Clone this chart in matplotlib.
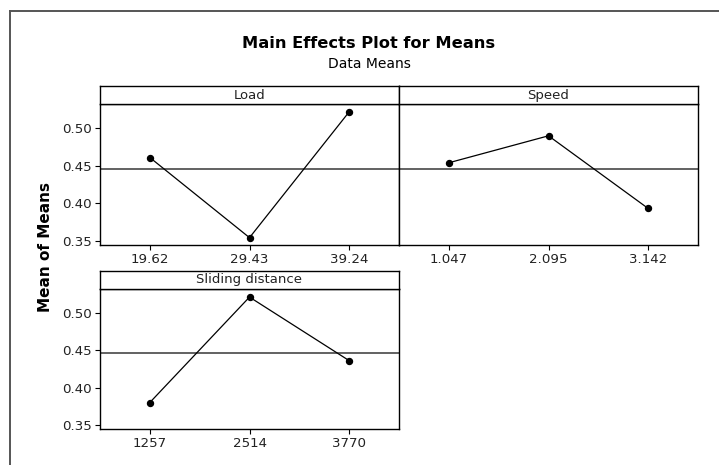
import numpy as np
import matplotlib
matplotlib.use("Agg")
import matplotlib.pyplot as plt
from matplotlib.lines import Line2D

plt.rcParams['font.family'] = ['DejaVu Sans']

# Level means for each factor
factors = ["Load", "Speed", "Sliding distance"]
load_levels = ["19.62", "29.43", "39.24"]
load_means = [0.461, 0.354, 0.522]
speed_levels = ["1.047", "2.095", "3.142"]
speed_means = [0.454, 0.490, 0.393]
sliding_levels = ["1257", "2514", "3770"]
sliding_means = [0.380, 0.521, 0.436]

y_ticks = [0.35, 0.40, 0.45, 0.50]
y_limits = (0.3442, 0.5318)

grand_mean = np.mean(load_means + speed_means + sliding_means)

W, H = 719, 465
fig = plt.figure(figsize=(W / 100, H / 100), dpi=100)


def px_rect(left, top, right, bottom):
    return [left / W, 1 - bottom / H, (right - left) / W, (bottom - top) / H]


# Outer frame (left and top edges)
fig.add_artist(Line2D([10 / W, 10 / W], [0, 1 - 11 / H], transform=fig.transFigure,
                      color="#555555", lw=1.4))
fig.add_artist(Line2D([10 / W, 1.01], [1 - 11 / H, 1 - 11 / H], transform=fig.transFigure,
                      color="#555555", lw=1.4))

fig.text(369 / W, 1 - 44 / H, "Main Effects Plot for Means", ha="center", va="center",
         fontsize=11.7, fontweight="bold")
fig.text(369 / W, 1 - 64 / H, "Data Means", ha="center", va="center", fontsize=10)
fig.text(45 / W, 1 - 247 / H, "Mean of Means", ha="center", va="center",
         rotation=90, fontsize=11, fontweight="bold")

panels = [
    (factors[0], load_levels, load_means, (100, 104.5, 399, 245), True),
    (factors[1], speed_levels, speed_means, (399, 104.5, 698, 245), False),
    (factors[2], sliding_levels, sliding_means, (100, 289, 399, 429.3), True),
]

strip_h = 18.5
for name, levels, means, (l, t, r, b), show_y in panels:
    ax = fig.add_axes(px_rect(l, t, r, b))
    x = np.arange(1, len(levels) + 1)
    ax.axhline(grand_mean, color="#555555", lw=1.3, zorder=1)
    ax.plot(x, means, color="black", lw=0.9, marker="o", markersize=4.3, zorder=3)
    ax.set_xlim(0.5, len(levels) + 0.5)
    ax.set_ylim(*y_limits)
    ax.set_xticks(x)
    ax.set_xticklabels(levels)
    ax.set_yticks(y_ticks)
    ax.set_yticklabels([f"{v:.2f}" for v in y_ticks])
    ax.tick_params(axis="both", direction="out", length=3.8, width=0.8,
                   labelsize=9.6, pad=2, color="black", labelcolor="#222222")
    ax.tick_params(axis="x", top=False)
    ax.tick_params(axis="y", right=False)
    if not show_y:
        ax.tick_params(axis="y", left=False, labelleft=False)
    for s in ax.spines.values():
        s.set_linewidth(1.0)
        s.set_color("black")

    sax = fig.add_axes(px_rect(l, t - strip_h, r, t))
    sax.set_xticks([])
    sax.set_yticks([])
    for s in sax.spines.values():
        s.set_linewidth(1.0)
        s.set_color("black")
    sax.text(0.5, 0.5, name, ha="center", va="center", fontsize=9.5,
             transform=sax.transAxes, color="#222222")

fig.savefig("out.png", dpi=100)
